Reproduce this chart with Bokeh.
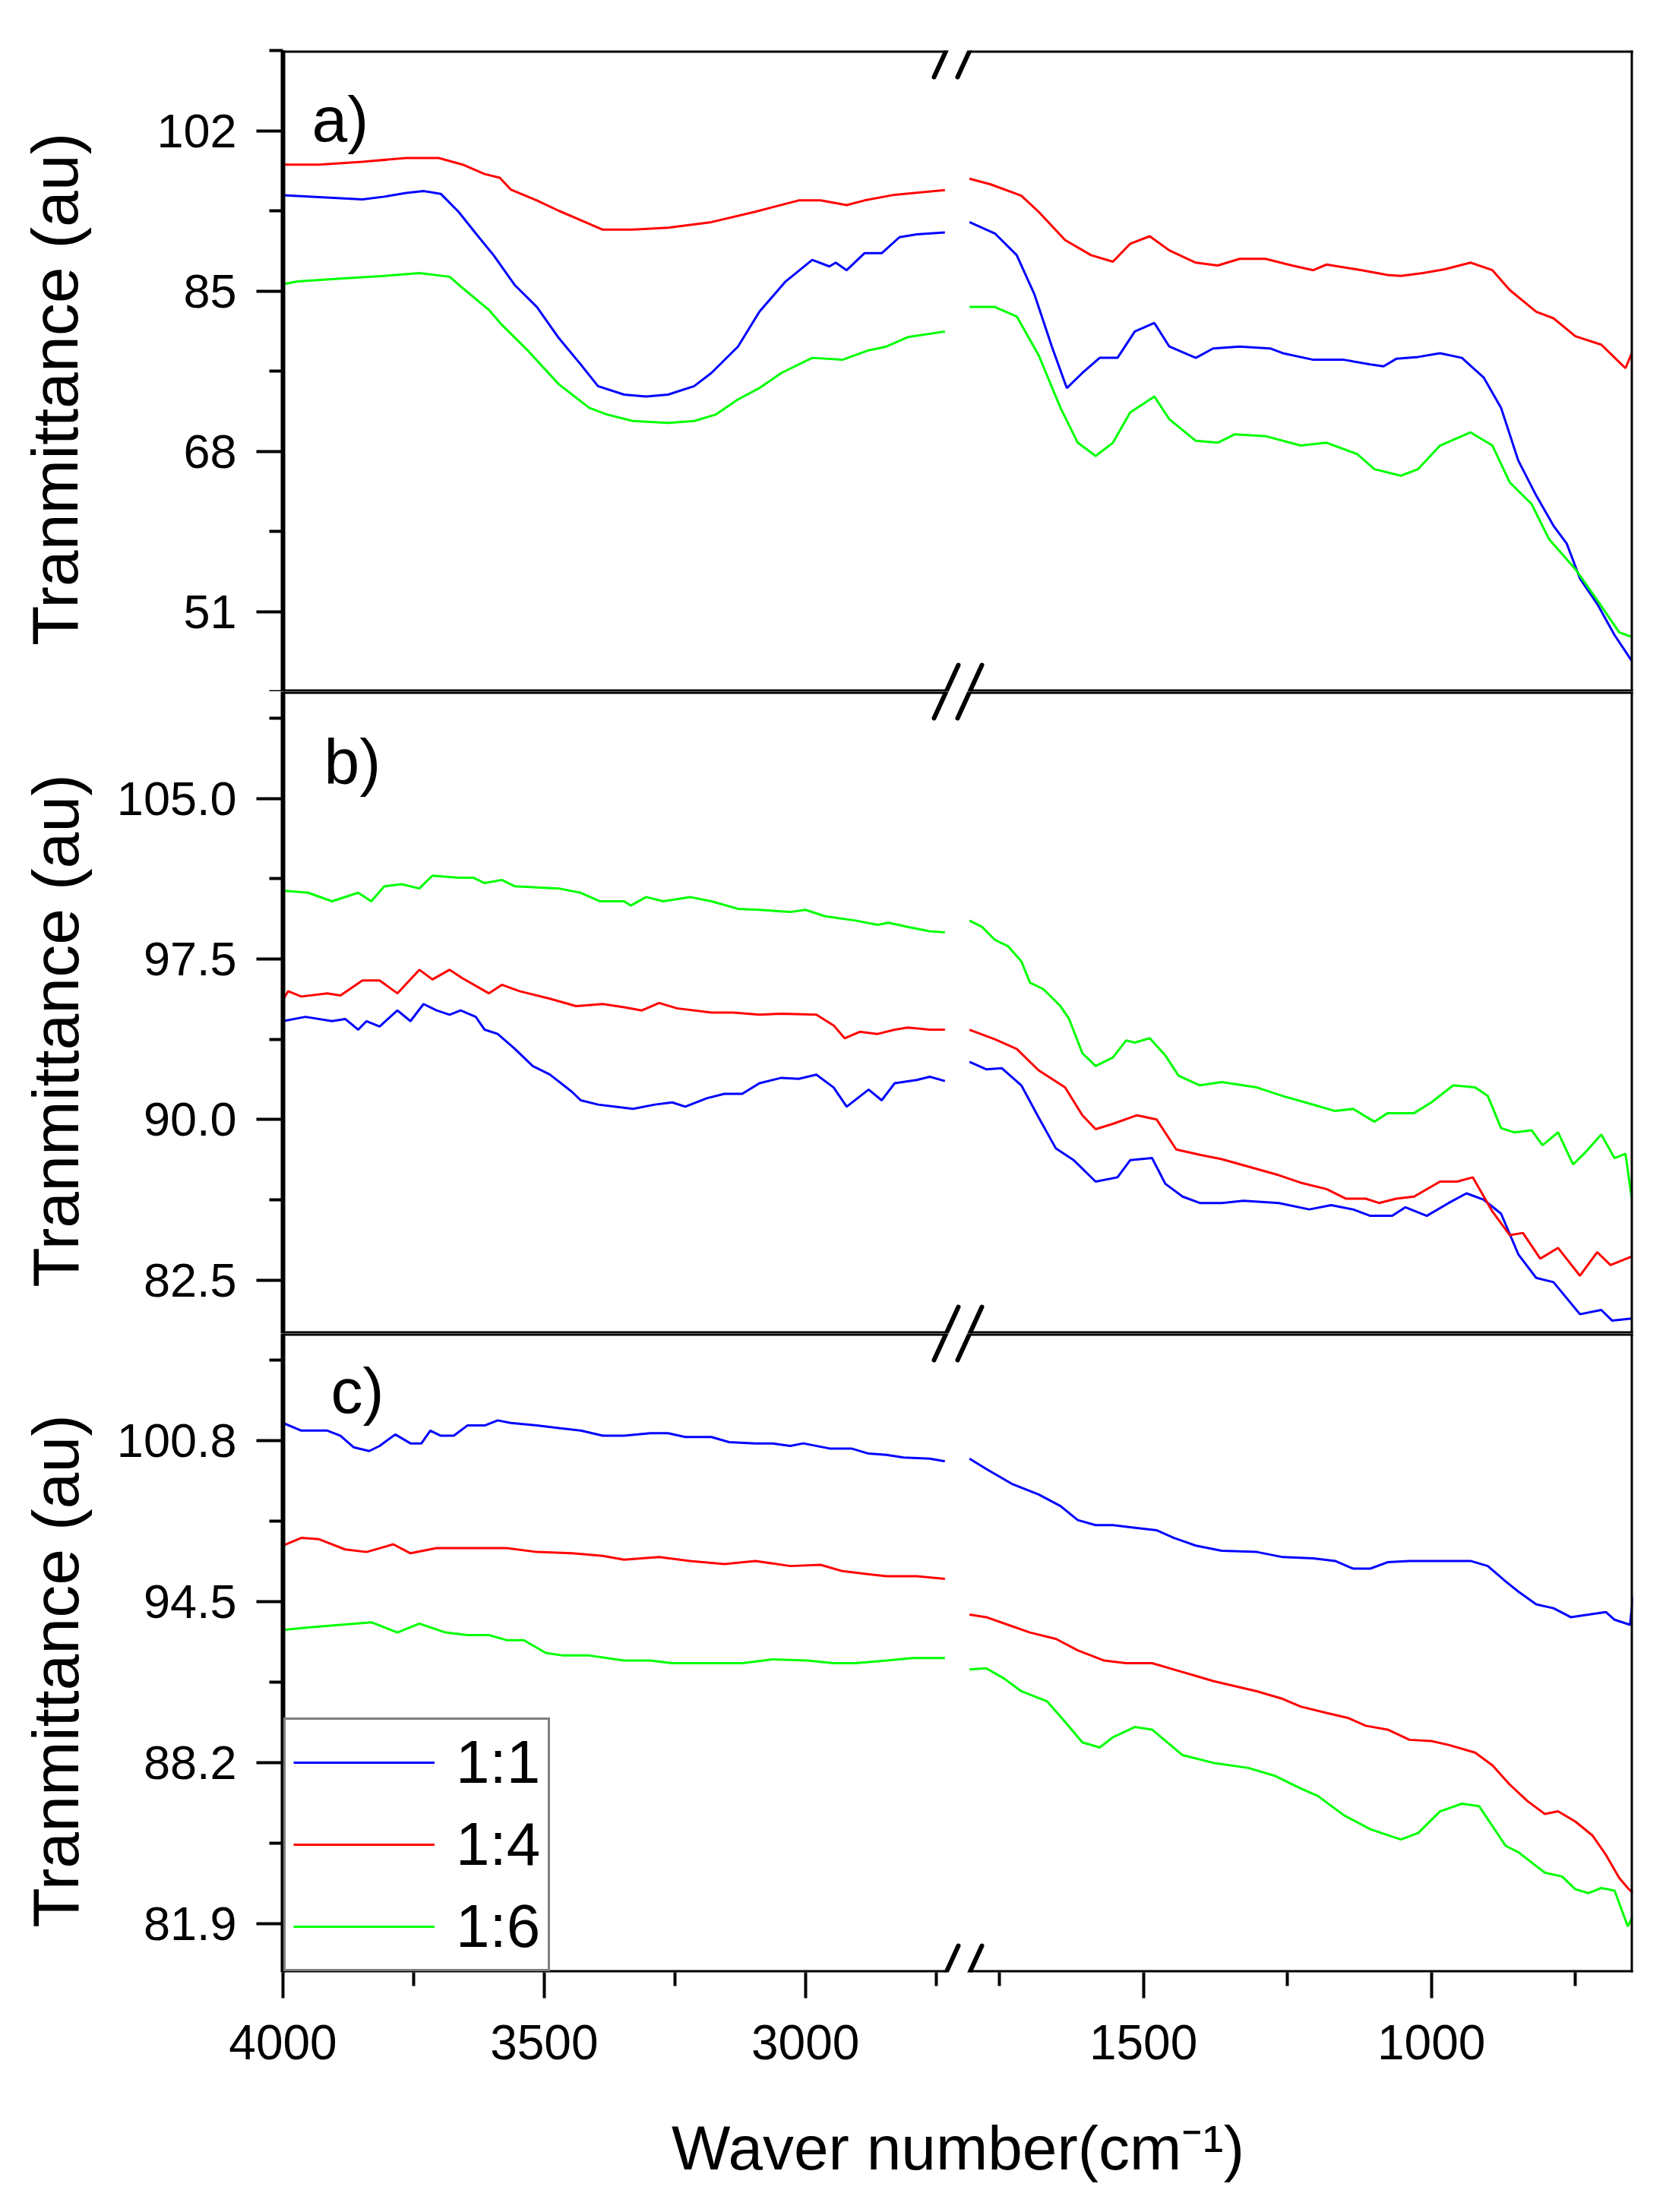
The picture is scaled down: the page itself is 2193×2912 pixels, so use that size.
import numpy as np
from bokeh.plotting import figure
from bokeh.layouts import column
from bokeh.models import (Range1d, FixedTicker, PrintfTickFormatter, Arrow, Label,
                          Legend, LegendItem)
from bokeh.embed import file_html
from bokeh.resources import INLINE

FONT = "Liberation Sans"
BLUE, RED, GREEN = "#0000ff", "#ff0000", "#00ff00"
SERIES_NAMES = ["1:1", "1:4", "1:6"]

# broken wavenumber axis: left half 4000-2708, right half 1822-650
LEFT_SEG = (4000, 2708)
RIGHT_SEG = (1822, 650)
X_MAJOR = [4000, 3500, 3000, 1500, 1000]
X_MINOR = [3750, 3250, 2750, 1750, 1250, 750]

# ---- panel a) ----
A_WN_L_BLUE = [4000, 3931, 3848, 3806, 3764, 3731, 3698, 3664, 3631, 3597, 3556, 3514, 3472, 3430, 3397, 3347,
               3305, 3263, 3213, 3180, 3129, 3088, 3038, 2987, 2954, 2942, 2921, 2887, 2854, 2820, 2787, 2733]
A_L_BLUE = [95.15, 94.96, 94.7, 95.0, 95.4, 95.6, 95.3, 93.4, 91.1, 88.8, 85.6, 83.3, 80.0, 77.2, 74.9, 74.0,
            73.8, 74.0, 74.9, 76.3, 79.1, 82.8, 86.0, 88.3, 87.6, 88.0, 87.2, 89.0, 89.0, 90.7, 91.0, 91.2]
A_WN_L_RED = [4000, 3931, 3848, 3764, 3702, 3656, 3614, 3585, 3564, 3514, 3472, 3430, 3388, 3330, 3263, 3180,
              3096, 3013, 2971, 2921, 2887, 2829, 2733]
A_L_RED = [98.4, 98.4, 98.7, 99.1, 99.1, 98.4, 97.4, 97.0, 95.75, 94.6, 93.5, 92.5, 91.5, 91.5, 91.7, 92.3,
           93.4, 94.6, 94.6, 94.1, 94.6, 95.2, 95.7]
A_WN_L_GREEN = [4000, 3973, 3890, 3806, 3739, 3681, 3656, 3606, 3581, 3530, 3472, 3414, 3380, 3330, 3263, 3213,
                3171, 3129, 3088, 3046, 2987, 2929, 2879, 2845, 2804, 2733]
A_L_GREEN = [85.7, 86.0, 86.3, 86.6, 86.9, 86.5, 85.3, 83.0, 81.4, 78.6, 75.1, 72.6, 71.9, 71.2, 71.0, 71.2,
             71.9, 73.5, 74.7, 76.3, 77.9, 77.7, 78.7, 79.1, 80.1, 80.7]
A_WN_R_BLUE = [1802, 1758, 1720, 1689, 1659, 1633, 1606, 1576, 1545, 1515, 1481, 1455, 1409, 1379, 1333, 1280,
               1258, 1205, 1152, 1106, 1083, 1061, 1023, 985, 947, 909, 879, 849, 818, 788, 765, 742, 712, 682, 652]
A_R_BLUE = [92.3, 91.1, 88.8, 84.6, 79.1, 74.7, 76.3, 77.9, 77.9, 80.7, 81.6, 79.1, 77.9, 78.9, 79.1, 78.9,
            78.4, 77.7, 77.7, 77.2, 77.0, 77.8, 78.0, 78.4, 77.9, 75.8, 72.6, 67.0, 63.3, 60.1, 58.2, 54.5, 51.8,
            48.5, 45.75]
A_WN_R_RED = [1802, 1765, 1712, 1682, 1636, 1591, 1553, 1523, 1489, 1455, 1409, 1371, 1333, 1288, 1242, 1205,
              1182, 1121, 1076, 1053, 1015, 977, 932, 894, 864, 818, 788, 750, 705, 678, 663, 652]
A_R_RED = [96.9, 96.3, 95.1, 93.4, 90.4, 88.8, 88.1, 90.0, 90.8, 89.3, 88.0, 87.7, 88.4, 88.4, 87.7, 87.2,
           87.8, 87.2, 86.7, 86.6, 86.9, 87.3, 88.0, 87.2, 85.1, 82.8, 82.1, 80.2, 79.3, 77.7, 76.8, 78.4]
A_WN_R_GREEN = [1802, 1758, 1720, 1682, 1644, 1614, 1583, 1553, 1523, 1481, 1455, 1409, 1371, 1341, 1288, 1227,
                1182, 1129, 1099, 1053, 1023, 985, 932, 894, 864, 826, 796, 750, 712, 674, 652]
A_R_GREEN = [83.3, 83.3, 82.3, 78.2, 72.6, 68.9, 67.5, 68.9, 72.1, 73.8, 71.4, 69.1, 68.9, 69.8, 69.6, 68.6,
             68.9, 67.7, 66.1, 65.4, 66.1, 68.6, 70.0, 68.6, 64.7, 62.4, 58.7, 55.5, 52.2, 48.8, 48.3]

# ---- panel b) ----
B_WN_L_BLUE = [4000, 3957, 3906, 3881, 3856, 3840, 3815, 3781, 3756, 3731, 3706, 3681, 3660, 3631, 3614, 3589,
               3556, 3522, 3489, 3447, 3430, 3397, 3363, 3330, 3288, 3255, 3230, 3188, 3155, 3121, 3088, 3046,
               3013, 2979, 2946, 2921, 2879, 2854, 2829, 2787, 2762, 2733]
B_L_BLUE = [94.6, 94.8, 94.6, 94.7, 94.2, 94.6, 94.35, 95.1, 94.6, 95.4, 95.1, 94.9, 95.1, 94.8, 94.2, 94.0,
            93.3, 92.5, 92.1, 91.3, 90.9, 90.7, 90.6, 90.5, 90.7, 90.8, 90.6, 91.0, 91.2, 91.2, 91.7, 91.95,
            91.9, 92.1, 91.5, 90.6, 91.4, 90.9, 91.7, 91.85, 92.0, 91.8]
B_WN_L_RED = [4000, 3990, 3965, 3915, 3890, 3848, 3815, 3781, 3739, 3714, 3681, 3656, 3606, 3581, 3547, 3489,
              3439, 3388, 3347, 3313, 3280, 3246, 3180, 3138, 3088, 3046, 2979, 2946, 2925, 2896, 2862, 2829,
              2804, 2762, 2733]
B_L_RED = [95.6, 96.0, 95.75, 95.9, 95.8, 96.5, 96.5, 95.9, 97.0, 96.55, 97.0, 96.6, 95.9, 96.3, 96.0, 95.65,
           95.3, 95.4, 95.25, 95.1, 95.45, 95.2, 95.0, 95.0, 94.9, 94.95, 94.9, 94.4, 93.8, 94.1, 94.0, 94.2,
           94.3, 94.2, 94.2]
B_WN_L_GREEN = [4000, 3952, 3906, 3856, 3831, 3806, 3773, 3739, 3714, 3664, 3635, 3614, 3581, 3556, 3514, 3472,
                3430, 3393, 3347, 3334, 3305, 3272, 3221, 3180, 3129, 3088, 3029, 3000, 2962, 2904, 2862, 2841,
                2804, 2762, 2733]
B_L_GREEN = [100.7, 100.6, 100.2, 100.6, 100.2, 100.9, 101.0, 100.8, 101.4, 101.3, 101.3, 101.05, 101.2, 100.9,
             100.85, 100.8, 100.6, 100.2, 100.2, 100.0, 100.4, 100.2, 100.4, 100.2, 99.85, 99.8, 99.7, 99.8,
             99.5, 99.3, 99.1, 99.2, 99.0, 98.8, 98.75]
B_WN_R_BLUE = [1802, 1773, 1746, 1712, 1682, 1652, 1621, 1583, 1545, 1523, 1485, 1462, 1432, 1402, 1364, 1326,
               1265, 1212, 1174, 1136, 1106, 1068, 1045, 1008, 970, 939, 909, 879, 849, 818, 788, 742, 705, 686, 652]
B_R_BLUE = [92.7, 92.35, 92.4, 91.6, 90.1, 88.65, 88.1, 87.1, 87.3, 88.1, 88.2, 87.0, 86.4, 86.1, 86.1, 86.2,
            86.1, 85.8, 86.0, 85.8, 85.5, 85.5, 85.9, 85.5, 86.1, 86.55, 86.25, 85.6, 83.7, 82.6, 82.4, 80.9,
            81.1, 80.6, 80.7]
B_WN_R_RED = [1802, 1758, 1720, 1682, 1636, 1606, 1583, 1553, 1511, 1477, 1443, 1402, 1364, 1318, 1265, 1227,
              1182, 1148, 1114, 1091, 1061, 1030, 985, 955, 928, 894, 864, 841, 811, 780, 742, 712, 689, 652]
B_R_RED = [94.2, 93.75, 93.3, 92.3, 91.5, 90.2, 89.55, 89.8, 90.2, 90.0, 88.6, 88.35, 88.15, 87.8, 87.4, 87.05,
           86.75, 86.3, 86.3, 86.1, 86.3, 86.4, 87.1, 87.1, 87.3, 85.7, 84.6, 84.7, 83.5, 84.0, 82.7, 83.8,
           83.2, 83.6]
B_WN_R_GREEN = [1802, 1780, 1758, 1735, 1712, 1697, 1674, 1644, 1629, 1606, 1583, 1553, 1530, 1515, 1489, 1462,
                1439, 1402, 1364, 1303, 1258, 1212, 1167, 1136, 1099, 1076, 1030, 1000, 962, 924, 902, 879, 856,
                826, 807, 780, 754, 735, 705, 682, 663, 652]
B_R_GREEN = [99.3, 99.0, 98.4, 98.1, 97.4, 96.4, 96.1, 95.3, 94.7, 93.1, 92.5, 92.9, 93.7, 93.6, 93.8, 93.0,
             92.05, 91.6, 91.75, 91.5, 91.1, 90.75, 90.4, 90.5, 89.9, 90.3, 90.3, 90.8, 91.6, 91.5, 91.1, 89.6,
             89.4, 89.5, 88.8, 89.4, 87.9, 88.4, 89.3, 88.2, 88.4, 86.3]

# ---- panel c) ----
C_WN_L_BLUE = [4000, 3965, 3915, 3890, 3865, 3835, 3815, 3785, 3756, 3735, 3718, 3698, 3673, 3647, 3614, 3589,
               3564, 3514, 3472, 3430, 3388, 3347, 3297, 3263, 3230, 3180, 3146, 3096, 3063, 3029, 3004, 2954,
               2912, 2879, 2845, 2812, 2762, 2733]
C_L_BLUE = [101.5, 101.2, 101.2, 101.0, 100.55, 100.4, 100.6, 101.05, 100.7, 100.7, 101.2, 101.0, 101.0, 101.4,
            101.4, 101.6, 101.5, 101.4, 101.3, 101.2, 101.0, 101.0, 101.1, 101.1, 100.95, 100.95, 100.75, 100.7,
            100.7, 100.6, 100.7, 100.5, 100.5, 100.3, 100.25, 100.15, 100.1, 100.0]
C_WN_L_RED = [4000, 3965, 3931, 3881, 3840, 3789, 3756, 3706, 3656, 3572, 3514, 3447, 3388, 3347, 3280, 3221,
              3155, 3096, 3029, 2971, 2929, 2887, 2845, 2787, 2733]
C_L_RED = [96.7, 97.0, 96.95, 96.55, 96.45, 96.75, 96.4, 96.6, 96.6, 96.6, 96.45, 96.4, 96.3, 96.15, 96.25, 96.1,
           95.98, 96.1, 95.9, 95.95, 95.7, 95.6, 95.5, 95.5, 95.4]
C_WN_L_GREEN = [4000, 3948, 3890, 3831, 3781, 3739, 3689, 3647, 3606, 3572, 3539, 3497, 3464, 3414, 3347, 3297,
                3255, 3196, 3121, 3063, 2996, 2946, 2904, 2845, 2795, 2733]
C_L_GREEN = [93.4, 93.5, 93.6, 93.7, 93.3, 93.65, 93.3, 93.2, 93.2, 93.0, 93.0, 92.5, 92.4, 92.4, 92.2, 92.2,
             92.1, 92.1, 92.1, 92.25, 92.2, 92.1, 92.1, 92.2, 92.3, 92.3]
C_WN_R_BLUE = [1802, 1773, 1727, 1682, 1644, 1614, 1583, 1553, 1515, 1477, 1447, 1409, 1364, 1303, 1258, 1205,
               1167, 1136, 1106, 1076, 1038, 985, 932, 902, 871, 849, 818, 788, 758, 727, 697, 682, 655, 650]
C_R_BLUE = [100.1, 99.7, 99.1, 98.7, 98.25, 97.7, 97.5, 97.5, 97.4, 97.3, 97.0, 96.7, 96.5, 96.45, 96.25, 96.2,
            96.1, 95.8, 95.8, 96.05, 96.1, 96.1, 96.1, 95.9, 95.3, 94.9, 94.4, 94.25, 93.9, 94.0, 94.1, 93.8,
            93.6, 94.7]
C_WN_R_RED = [1802, 1773, 1735, 1697, 1652, 1614, 1568, 1530, 1485, 1455, 1409, 1379, 1341, 1303, 1258, 1227,
              1182, 1144, 1114, 1076, 1038, 1000, 970, 924, 894, 864, 833, 803, 780, 750, 720, 697, 674, 659, 650]
C_R_RED = [94.0, 93.9, 93.6, 93.3, 93.05, 92.6, 92.2, 92.1, 92.1, 91.9, 91.6, 91.4, 91.2, 91.0, 90.7, 90.4,
           90.15, 89.95, 89.65, 89.5, 89.1, 89.05, 88.9, 88.6, 88.1, 87.35, 86.7, 86.2, 86.3, 85.9, 85.35, 84.6,
           83.7, 83.3, 83.1]
C_WN_R_GREEN = [1802, 1773, 1742, 1712, 1667, 1636, 1606, 1576, 1553, 1515, 1485, 1432, 1379, 1318, 1273, 1227,
                1197, 1152, 1106, 1053, 1023, 985, 947, 917, 871, 849, 803, 773, 750, 727, 705, 682, 659, 650]
C_R_GREEN = [91.85, 91.9, 91.5, 91.0, 90.6, 89.8, 89.0, 88.8, 89.2, 89.6, 89.5, 88.5, 88.2, 88.0, 87.7, 87.2,
             86.9, 86.15, 85.6, 85.2, 85.45, 86.3, 86.6, 86.5, 84.95, 84.7, 83.9, 83.75, 83.25, 83.1, 83.3, 83.2,
             81.8, 82.2]

# y axes of the three panels
A_YRANGE, A_TICKS, A_MINOR = (42.5, 110.5), [51, 68, 85, 102], [42.5, 59.5, 76.5, 93.5, 110.5]
B_YRANGE, B_TICKS, B_MINOR = (80.0, 110.0), [82.5, 90.0, 97.5, 105.0], [86.25, 93.75, 101.25, 108.75]
C_YRANGE, C_TICKS, C_MINOR = (80.0, 105.0), [81.9, 88.2, 94.5, 100.8], [85.05, 91.35, 97.65, 103.95]

FRAME_W = 1777
BORDER_L, BORDER_R = 372, 20
EDGE_W = 6
# two no-break spaces push the centred y title a little down, as in the original
Y_TITLE = "Tranmittance (au)\u00a0\u00a0"


def to_u(wn):
    wn = np.asarray(wn, dtype=float)
    left = (LEFT_SEG[0] - wn) / (LEFT_SEG[0] - LEFT_SEG[1])
    right = 1 + (RIGHT_SEG[0] - wn) / (RIGHT_SEG[0] - RIGHT_SEG[1])
    return np.where(wn > 2200, left, right)


def seg(p, x0, y0, x1, y1, cap="butt"):
    p.add_layout(Arrow(end=None, x_start=x0, y_start=y0, x_end=x1, y_end=y1,
                       line_color="black", line_width=EDGE_W, line_cap=cap))


def make_panel(yr, ticks, minor, fmt, frame_h, top, bottom, label_standoff, letter, letter_px, series, xaxis=False):
    p = figure(width=BORDER_L + FRAME_W + BORDER_R, height=top + frame_h + bottom,
               x_range=Range1d(0, 2), y_range=Range1d(*yr),
               x_axis_location="below" if xaxis else None,
               output_backend="svg", toolbar_location=None,
               min_border_left=BORDER_L, min_border_right=BORDER_R,
               min_border_top=top, min_border_bottom=bottom)
    p.grid.visible = False
    p.outline_line_color = None
    p.background_fill_color = "white"
    p.border_fill_color = "white"

    kx = 2.0 / FRAME_W
    ky = (yr[1] - yr[0]) / frame_h

    renderers = []
    for wn_l, v_l, wn_r, v_r, color in series:
        r = p.line(to_u(wn_l), v_l, line_color=color, line_width=3)
        p.line(to_u(wn_r), v_r, line_color=color, line_width=3)
        renderers.append(r)

    # box with the axis break marks
    s1, s2 = 1 - 15.5 * kx, 1 + 15.5 * kx
    pad = 3
    for y in yr:
        seg(p, -pad * kx, y, s1, y)
        seg(p, s2, y, 2 + pad * kx, y)
        for s in (s1, s2):
            seg(p, s - 16 * kx, y - 35 * ky, s + 16 * kx, y + 35 * ky, cap="round")
    seg(p, 2, yr[0] - pad * ky, 2, yr[1] + pad * ky)

    ax = p.yaxis[0]
    ax.ticker = FixedTicker(ticks=ticks, minor_ticks=minor)
    ax.formatter = PrintfTickFormatter(format=fmt)
    ax.axis_line_width = EDGE_W
    ax.major_tick_line_width = 4
    ax.minor_tick_line_width = 4
    ax.major_tick_out, ax.major_tick_in = 35, 0
    ax.minor_tick_out, ax.minor_tick_in = 18, 0
    ax.major_label_standoff = 26
    ax.major_label_text_font = FONT
    ax.major_label_text_font_size = "63px"
    ax.major_label_text_color = "black"
    ax.axis_label = Y_TITLE
    ax.axis_label_text_font = FONT
    ax.axis_label_text_font_size = "86px"
    ax.axis_label_text_font_style = "normal"
    ax.axis_label_text_color = "black"
    ax.axis_label_standoff = label_standoff

    p.add_layout(Label(x=letter_px[0] * kx, y=yr[1] - letter_px[1] * ky, text=letter,
                       text_font=FONT, text_font_size="84px", text_color="black",
                       text_baseline="alphabetic"))
    return p, renderers


def panel_series(wl_b, vl_b, wr_b, vr_b, wl_r, vl_r, wr_r, vr_r, wl_g, vl_g, wr_g, vr_g):
    return [(wl_b, vl_b, wr_b, vr_b, BLUE), (wl_r, vl_r, wr_r, vr_r, RED), (wl_g, vl_g, wr_g, vr_g, GREEN)]


pa, _ = make_panel(A_YRANGE, A_TICKS, A_MINOR, "%d", 844, 66, 0, 83, "a)", (38, 90),
                   panel_series(A_WN_L_BLUE, A_L_BLUE, A_WN_R_BLUE, A_R_BLUE,
                                A_WN_L_RED, A_L_RED, A_WN_R_RED, A_R_RED,
                                A_WN_L_GREEN, A_L_GREEN, A_WN_R_GREEN, A_R_GREEN))
pb, _ = make_panel(B_YRANGE, B_TICKS, B_MINOR, "%.1f", 845, 0, 0, 30, "b)", (54, 92),
                   panel_series(B_WN_L_BLUE, B_L_BLUE, B_WN_R_BLUE, B_R_BLUE,
                                B_WN_L_RED, B_L_RED, B_WN_R_RED, B_R_RED,
                                B_WN_L_GREEN, B_L_GREEN, B_WN_R_GREEN, B_R_GREEN))
pc, rends = make_panel(C_YRANGE, C_TICKS, C_MINOR, "%.1f", 841, 0, 302, 30, "c)", (63, 75),
                       panel_series(C_WN_L_BLUE, C_L_BLUE, C_WN_R_BLUE, C_R_BLUE,
                                    C_WN_L_RED, C_L_RED, C_WN_R_RED, C_R_RED,
                                    C_WN_L_GREEN, C_L_GREEN, C_WN_R_GREEN, C_R_GREEN),
                       xaxis=True)

# x axis (bottom panel only)
major_u = [float(u) for u in to_u(X_MAJOR)]
minor_u = [float(u) for u in to_u(X_MINOR)]
xa = pc.xaxis[0]
xa.ticker = FixedTicker(ticks=major_u, minor_ticks=minor_u)
xa.major_label_overrides = {u: str(w) for u, w in zip(major_u, X_MAJOR)}
xa.axis_line_color = None
xa.major_tick_line_width = 4
xa.minor_tick_line_width = 4
xa.major_tick_out, xa.major_tick_in = 34, 0
xa.minor_tick_out, xa.minor_tick_in = 18, 0
xa.major_label_standoff = 35
xa.major_label_text_font = FONT
xa.major_label_text_font_size = "64px"
xa.major_label_text_color = "black"
xa.axis_label = "Waver number(cm\u207b\u00b9)"
xa.axis_label_text_font = FONT
xa.axis_label_text_font_size = "82px"
xa.axis_label_text_font_style = "normal"
xa.axis_label_text_color = "black"
xa.axis_label_standoff = 68

legend = Legend(items=[LegendItem(label=n, renderers=[r]) for n, r in zip(SERIES_NAMES, rends)],
                location=(1, 1), margin=0, padding=10, spacing=16,
                glyph_width=186, glyph_height=80, label_height=80, label_standoff=28,
                label_text_font=FONT, label_text_font_size="80px", label_text_color="black",
                border_line_color="black", border_line_width=3,
                background_fill_color="white", background_fill_alpha=1)
pc.add_layout(legend)

layout = column(pa, pb, pc, spacing=0)
open("out.html", "w").write(file_html(layout, INLINE))
